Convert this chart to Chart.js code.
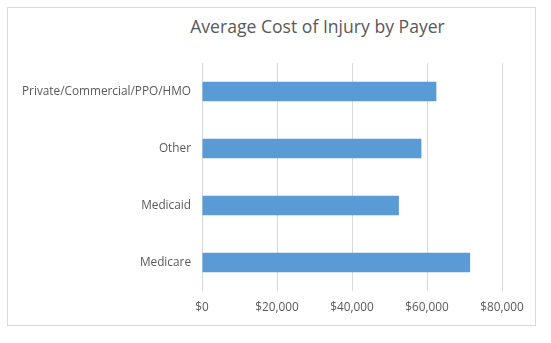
<!DOCTYPE html>
<html>
<head>
<meta charset="utf-8">
<script src="https://cdn.jsdelivr.net/npm/chart.js@4"></script>
<style>
  html, body { margin: 0; padding: 0; background: #fff; }
  .wrap { position: relative; width: 551px; height: 343px; }
  .frame {
    position: absolute; left: 7px; top: 7px; width: 527px; height: 317px;
    border: 1px solid #d9d9d9;
  }
  .titulo {
    position: absolute; left: 168px; top: 14px; width: 299px; text-align: center;
    font-family: "Open Sans", sans-serif; font-weight: 400; font-size: 17.6px;
    color: #595959; white-space: nowrap;
  }
  canvas { position: absolute; left: 0; top: 0; }
</style>
</head>
<body>
<div class="wrap">
  <div class="frame"></div>
  <div class="titulo">Average Cost of Injury by Payer</div>
  <canvas id="custoChart" width="551" height="343"></canvas>
</div>
<script>
// pagadores, de cima para baixo
const pagadores = ['Private/Commercial/PPO/HMO', 'Other', 'Medicaid', 'Medicare'];
const custoMedio = [62500, 58500, 52500, 71500];
const eixoMin = 0;
const eixoMax = 80000;
const eixoPasso = 20000;

const cinza = '#595959';
const fonte = { family: '"Open Sans", sans-serif', size: 11.8 };

const ctx = document.getElementById('custoChart').getContext('2d');

new Chart(ctx, {
  type: 'bar',
  data: {
    labels: pagadores,
    datasets: [{
      data: custoMedio,
      backgroundColor: '#5b9bd5',
      barPercentage: 0.34,
      categoryPercentage: 1
    }]
  },
  options: {
    indexAxis: 'y',
    responsive: false,
    animation: false,
    layout: { padding: { top: 63, right: 49, bottom: 22, left: 0 } },
    plugins: {
      legend: { display: false },
      tooltip: { enabled: false }
    },
    scales: {
      x: {
        min: eixoMin,
        max: eixoMax,
        border: { display: false },
        grid: { color: '#d9d9d9', drawTicks: false },
        ticks: {
          stepSize: eixoPasso,
          color: cinza,
          font: fonte,
          padding: 10,
          callback: v => '$' + v.toLocaleString('en-US')
        },
        afterFit: s => { s.height = 30; }
      },
      y: {
        border: { display: false },
        grid: { display: false, drawTicks: false },
        ticks: { color: cinza, font: fonte, padding: 11 },
        afterFit: s => { s.width = 202; }
      }
    }
  }
});
</script>
</body>
</html>
